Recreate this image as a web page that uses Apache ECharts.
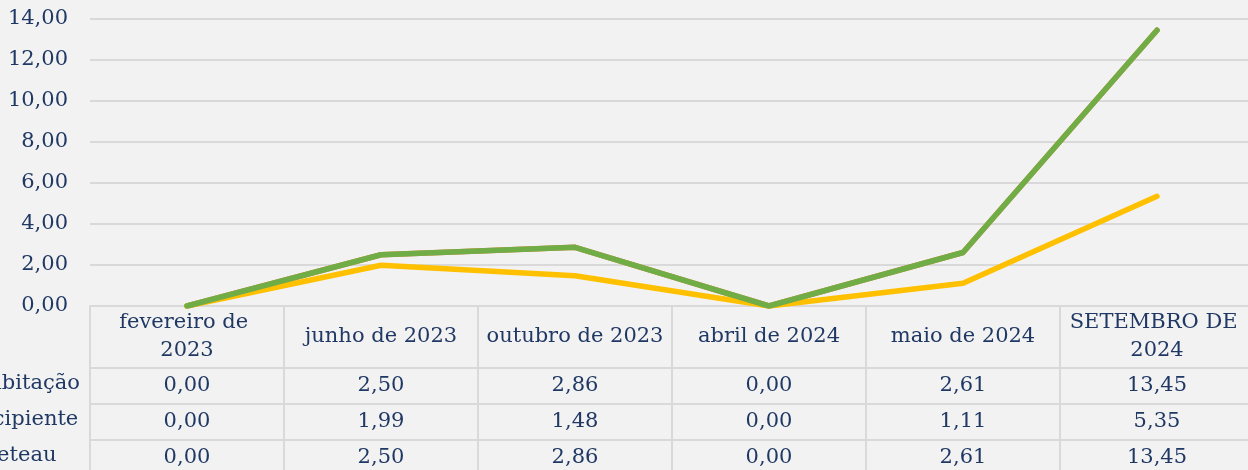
<!DOCTYPE html>
<html>
<head>
<meta charset="utf-8">
<script src="https://cdn.jsdelivr.net/npm/echarts@6/dist/echarts.min.js"></script>
<style>
  html, body { margin: 0; padding: 0; background: #f2f2f2; overflow: hidden; }
  #chart { width: 1248px; height: 470px; }
</style>
</head>
<body>
<div id="chart"></div>
<script>
  // values (data table under the plot)
  var categories = ["fevereiro de 2023", "junho de 2023", "outubro de 2023",
                    "abril de 2024", "maio de 2024", "SETEMBRO DE 2024"];
  var seriesNames = ["Habitação", "Incipiente", "Creteau"];
  var habitacao = [0.00, 2.50, 2.86, 0.00, 2.61, 13.45];
  var incipiente = [0.00, 1.99, 1.48, 0.00, 1.11, 5.35];
  var creteau = [0.00, 2.50, 2.86, 0.00, 2.61, 13.45];
  var seriesColors = ["#ed7d31", "#ffc000", "#70ad47"];
  var yTicks = { min: 0, max: 14, interval: 2 };

  var rows = [habitacao, incipiente, creteau];
  var TEXT = "#203864";
  var GRID = "#d9d9d9";
  var FONT = "DejaVu Serif";
  var FS = 21;

  function fmt(v) { return v.toFixed(2).replace(".", ","); }

  var headerH = 62, rowH = 36;

  var xAxes = [{
    type: "category",
    data: categories,
    position: "bottom",
    axisLine: { show: true, lineStyle: { color: GRID, width: 2 } },
    axisTick: { show: true, length: headerH, lineStyle: { color: GRID, width: 2 } },
    axisLabel: {
      margin: headerH / 2, verticalAlign: "middle", color: TEXT,
      fontFamily: FONT, fontSize: FS, lineHeight: 28,
      width: 186, overflow: "break", interval: 0
    }
  }];
  rows.forEach(function (r, k) {
    xAxes.push({
      type: "category",
      data: categories,
      position: "bottom",
      offset: headerH + k * rowH,
      axisLine: { show: true, lineStyle: { color: GRID, width: 2 } },
      axisTick: { show: true, length: rowH, lineStyle: { color: GRID, width: 2 } },
      axisLabel: {
        margin: rowH / 2, verticalAlign: "middle", color: TEXT,
        fontFamily: FONT, fontSize: FS, interval: 0,
        formatter: function (v, i) { return fmt(r[i]); }
      }
    });
  });

  var series = rows.map(function (r, k) {
    return {
      name: seriesNames[k],
      type: "line",
      xAxisIndex: 0,
      data: r,
      symbol: "none",
      lineStyle: { color: seriesColors[k], width: 5.5, cap: "round", join: "round" },
      z: 2 + k
    };
  });

  var graphics = seriesNames.map(function (n, k) {
    return {
      type: "text",
      left: -29,
      top: 306 + headerH + k * rowH + rowH / 2 - 13,
      style: { text: n, fill: TEXT, font: FS + "px '" + FONT + "'" }
    };
  });

  var chart = echarts.init(document.getElementById("chart"), null, { renderer: "canvas" });
  chart.setOption({
    backgroundColor: "#f2f2f2",
    animation: false,
    grid: { left: 90, width: 1164, top: 19, height: 287, outerBoundsMode: "none" },
    xAxis: xAxes,
    yAxis: {
      type: "value",
      min: yTicks.min, max: yTicks.max, interval: yTicks.interval,
      axisLine: { show: false },
      axisTick: { show: false },
      axisLabel: {
        margin: 22, color: TEXT, fontFamily: FONT, fontSize: FS,
        formatter: fmt
      },
      splitLine: { lineStyle: { color: GRID, width: 2 } }
    },
    graphic: graphics,
    series: series
  });
</script>
</body>
</html>
